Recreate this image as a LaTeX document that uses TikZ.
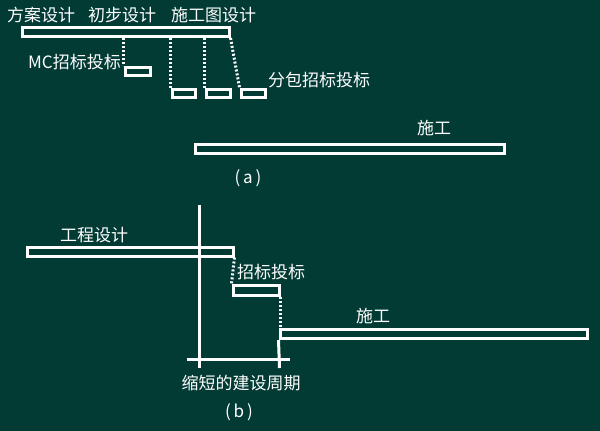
\documentclass[tikz,border=0pt]{standalone}
\usepackage{fontspec}
\setmainfont{Noto Sans CJK SC}
\begin{document}
\begin{tikzpicture}[x=1pt,y=-1pt,
  bar/.style={draw=white,line width=3pt,fill=bg,inner sep=0pt,minimum width=#1},
  lbl/.style={text=white,font=\fontsize{17}{19}\selectfont,inner sep=0pt},
  dotline/.style={white,line width=3pt,dash pattern=on 2pt off 2pt},
  solidline/.style={white,line width=3pt}]
\definecolor{bg}{HTML}{023B34}
\fill[bg] (0,0) rectangle (600,431);
\useasboundingbox (0,0) rectangle (600,431);
% (a)
\node[lbl,anchor=west] (t1) at (7,15) {方案设计};
\node[lbl,anchor=west] (t2) at (88,15) {初步设计};
\node[lbl,anchor=west] (t3) at (171,15) {施工图设计};
\node[bar=207pt,minimum height=9pt] (topbar) at (125.5,32) {};
\node[bar=25pt,minimum height=8pt] (b1) at (137.5,71.5) {};
\node[bar=23pt,minimum height=8pt] (b2) at (183.5,93) {};
\node[bar=24pt,minimum height=8pt] (b3) at (218,93) {};
\node[bar=24pt,minimum height=8pt] (b4) at (253,93) {};
\draw[dotline] (b1.north west |- topbar.south) -- (b1.north west);
\draw[dotline] (b2.north west |- topbar.south) -- (b2.north west);
\draw[dotline] (b3.north west |- topbar.south) -- (b3.north west);
\draw[dotline] (topbar.south east) -- (b4.north west);
\node[lbl,anchor=east] (mc) at (121,62) {MC招标投标};
\node[lbl,anchor=west] (fb) at (268,80) {分包招标投标};
\node[bar=309pt,minimum height=9pt] (cona) at (349.5,148.5) {};
\node[lbl] (sga) at (434,128) {施工};
\node[lbl] (capa) at (248,178) {(\,a\,)};
% (b)
\node[lbl] (gc) at (94,235) {工程设计};
\node[bar=206pt,minimum height=9pt] (desb) at (130,251.5) {};
\coordinate (vtop) at (199,205);
\coordinate (vbot) at (199,368);
\draw[solidline] (vtop) -- (vbot);
\node[bar=46pt,minimum height=10pt] (tend) at (256,290) {};
\node[lbl,anchor=west] (zb) at (237,272) {招标投标};
\draw[dotline] (desb.south east) -- (tend.north west);
\node[bar=307pt,minimum height=9pt] (conb) at (433.5,334) {};
\draw[dotline] (tend.south east) -- (tend.south east |- conb.north west);
\coordinate (rbot) at (279.5,368);
\draw[solidline] (conb.south west) -- (rbot);
\coordinate (hl) at (187,359);
\coordinate (hr) at (290,359);
\draw[solidline] (hl) -- (hr);
\node[lbl] (sgb) at (373,316) {施工};
\node[lbl] (sd) at (241,383) {缩短的建设周期};
\node[lbl] (capb) at (239,412) {(\,b\,)};
\end{tikzpicture}
\end{document}
